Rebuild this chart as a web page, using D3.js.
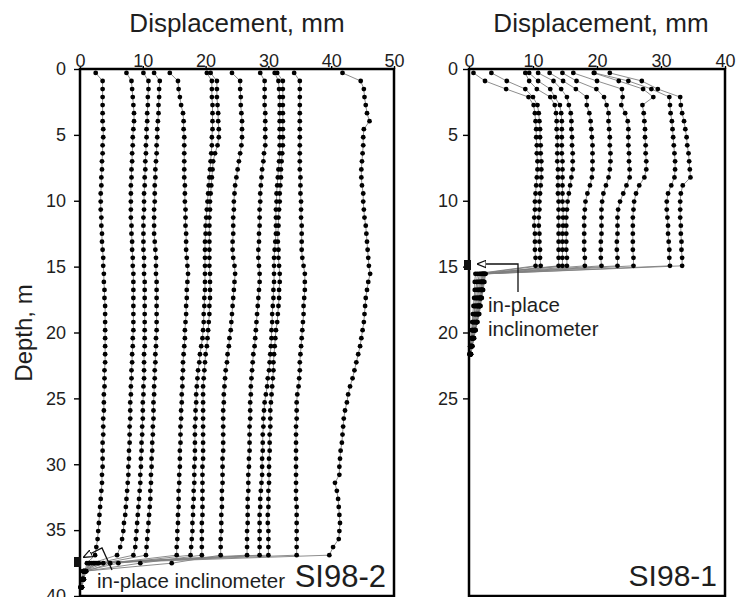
<!DOCTYPE html>
<html><head><meta charset="utf-8">
<script src="https://cdn.jsdelivr.net/npm/d3@7"></script>
<style>
html,body{margin:0;padding:0;background:#fff;}
svg{display:block;font-family:'Liberation Sans',Arial,Helvetica,sans-serif;}
</style></head><body>
<svg id="chart" width="751" height="597"></svg>
<script>
// ---------- DATA ----------
const xTicksLeft = [0, 10, 20, 30, 40, 50];
const xTicksRight = [0, 10, 20, 30, 40];
const yTicksLeft = [0, 5, 10, 15, 20, 25, 30, 35, 40];
const yTicksRight = [0, 5, 10, 15, 20, 25];

// reading depths (m)
const depthsLeft = [0.30,0.91,1.52,2.13,2.74,3.35,3.96,4.57,5.18,5.79,6.40,7.01,7.62,8.23,8.84,9.45,10.06,10.67,11.28,11.89,12.50,13.11,13.72,14.33,14.94,15.55,16.16,16.77,17.38,17.99,18.60,19.21,19.82,20.43,21.04,21.65,22.26,22.87,23.48,24.09,24.70,25.31,25.92,26.53,27.14,27.75,28.36,28.97,29.58,30.19,30.80,31.41,32.02,32.63,33.24,33.85,34.46,35.07,35.68,36.29,36.90,37.51,38.12,38.73,39.34];
const depthsRight = [0.30,0.91,1.52,2.13,2.74,3.35,3.96,4.57,5.18,5.79,6.40,7.01,7.62,8.23,8.84,9.45,10.06,10.67,11.28,11.89,12.50,13.11,13.72,14.33,14.94,15.55,16.16,16.77,17.38,17.99,18.60,19.21,19.82,20.43,21.04,21.65];

// SI98-2 displacement profiles (mm)
const si2_s1 = [2.5, 3.6,3.6,3.6,3.6,3.6,3.6,3.7,3.7,3.6,3.6, 3.5,3.5,3.4,3.4,3.3,3.3,3.3,3.4,3.4,3.5, 3.5,3.6,3.7,3.7,3.8,3.8,3.9,3.9,4.0,4.0, 4.0,4.0,4.0,4.0,4.0,4.0,3.9,3.9,3.9,3.8, 3.8,3.8,3.7,3.7,3.7,3.6,3.6,3.6,3.6,3.5, 3.5,3.4,3.3,3.2,3.1,3.0,2.9,2.8,2.6,2.4, 1.1,0.8,0.5,0.2];
const si2_s2 = [7.4, 8.2,8.3,8.4,8.5,8.6,8.6,8.5,8.4,8.4,8.3, 8.3,8.2,8.2,8.1,8.1,8.1,8.1,8.1,8.2,8.2, 8.3,8.3,8.4,8.4,8.5,8.5,8.5,8.5,8.5,8.5, 8.5,8.5,8.4,8.4,8.3,8.3,8.2,8.2,8.1,8.1, 8.0,8.0,8.0,7.9,7.9,7.9,7.8,7.8,7.7,7.7, 7.6,7.5,7.4,7.3,7.2,7.0,6.9,6.7,6.4,5.9, 1.9,0.6,0.4,0.1];
const si2_s3 = [10.1, 10.9,10.9,10.8,10.8,10.7,10.7,10.6,10.6,10.5,10.5, 10.4,10.4,10.3,10.3,10.2,10.2,10.2,10.1,10.1,10.1, 10.1,10.1,10.2,10.2,10.2,10.3,10.3,10.3,10.3,10.3, 10.3,10.3,10.3,10.3,10.2,10.2,10.2,10.2,10.1,10.1, 10.0,10.0,10.0,9.9,9.9,9.8,9.8,9.7,9.7,9.6, 9.6,9.5,9.4,9.3,9.2,9.1,9.0,8.9,8.8,8.5, 2.7,0.9,0.6,0.3];
const si2_s4 = [11.8, 12.7,12.6,12.6,12.5,12.5,12.4,12.3,12.3,12.2,12.2, 12.1,12.0,12.0,11.9,11.9,11.9,11.8,11.8,11.8,11.8, 11.9,12.0,12.1,12.1,12.1,12.2,12.2,12.2,12.2,12.2, 12.2,12.2,12.1,12.1,12.0,12.0,11.9,11.9,11.8,11.8, 11.7,11.7,11.7,11.6,11.6,11.5,11.5,11.4,11.4,11.3, 11.3,11.2,11.2,11.1,11.0,10.9,10.8,10.7,10.6,10.5, 3.7,0.7,0.3,0.2];
const si2_s5 = [14.3, 15.6,15.7,15.9,16.1,16.4,16.5,16.5,16.6,16.6,16.6, 16.6,16.6,16.6,16.7,16.7,16.7,16.8,16.8,16.8,16.9, 16.9,16.9,17.0,17.1,17.2,17.1,17.0,17.0,16.9,16.9, 16.8,16.7,16.7,16.6,16.5,16.4,16.4,16.3,16.3,16.2, 16.2,16.1,16.1,16.0,16.0,16.0,15.9,15.9,15.9,15.8, 15.8,15.7,15.7,15.7,15.6,15.6,15.5,15.5,15.4,15.4, 4.8,1.0,0.5,0.1];
const si2_s6 = [20.2, 21.0,21.0,21.0,21.1,21.1,21.1,21.1,21.0,21.0,20.9, 20.8,20.7,20.6,20.5,20.4,20.3,20.2,20.1,20.0,20.0, 19.9,19.9,19.9,19.9,19.9,19.9,19.9,19.8,19.8,19.7, 19.7,19.6,19.5,19.3,19.1,19.0,18.8,18.7,18.6,18.5, 18.5,18.4,18.4,18.3,18.3,18.3,18.3,18.3,18.2,18.2, 18.2,18.1,18.1,18.0,18.0,17.9,17.9,17.8,17.7,17.6, 6.1,0.5,0.4,0.3];
const si2_s7 = [20.8, 21.8,21.8,21.8,21.9,22.0,22.0,22.1,22.1,21.9,21.5, 21.2,21.1,21.0,20.9,20.8,20.7,20.7,20.6,20.6,20.6, 20.6,20.6,20.6,20.6,20.7,20.7,20.7,20.7,20.6,20.6, 20.5,20.4,20.3,20.2,20.0,19.9,19.8,19.7,19.6,19.6, 19.6,19.6,19.6,19.6,19.6,19.6,19.6,19.6,19.5,19.5, 19.5,19.5,19.5,19.5,19.5,19.4,19.4,19.4,19.4,19.4, 9.6,0.8,0.6,0.2];
const si2_s8 = [24.2, 25.5,25.5,25.6,25.6,25.7,25.8,25.8,25.8,25.7,25.5, 25.3,25.1,24.9,24.7,24.6,24.5,24.5,24.4,24.4,24.4, 24.3,24.3,24.4,24.6,24.7,24.6,24.5,24.4,24.3,24.2, 24.1,24.0,23.8,23.7,23.5,23.4,23.2,23.1,23.0,22.9, 22.9,22.8,22.8,22.8,22.8,22.8,22.8,22.7,22.7,22.7, 22.7,22.6,22.6,22.6,22.5,22.5,22.5,22.4,22.4,22.4, 14.6,0.6,0.3,0.1];
const si2_s9 = [28.7, 29.4,29.4,29.4,29.4,29.5,29.5,29.5,29.5,29.5,29.3, 29.2,29.0,28.9,28.8,28.7,28.7,28.6,28.6,28.6,28.5, 28.5,28.4,28.4,28.5,28.6,28.6,28.5,28.4,28.3,28.2, 28.1,28.0,27.9,27.8,27.6,27.5,27.4,27.3,27.2,27.2, 27.1,27.1,27.1,27.0,27.0,27.0,27.0,26.9,26.9,26.8, 26.8,26.8,26.7,26.7,26.7,26.7,26.6,26.6,26.6,26.6, 1.5,0.9,0.5,0.3];
const si2_s10 = [31.0, 31.6,31.7,31.8,31.8,31.8,31.8,31.8,31.8,31.8,31.8, 31.7,31.6,31.5,31.4,31.3,31.3,31.2,31.2,31.2,31.2, 31.1,31.0,30.9,30.9,30.9,30.9,30.8,30.8,30.7,30.6, 30.6,30.5,30.5,30.4,30.3,30.2,30.1,29.9,29.8,29.6, 29.4,29.3,29.2,29.2,29.1,29.1,29.1,29.0,29.0,29.0, 28.9,28.8,28.7,28.7,28.6,28.6,28.6,28.6,28.6,28.6, 2.2,0.7,0.4,0.2];
const si2_s11 = [31.4, 32.3,32.3,32.3,32.3,32.3,32.3,32.3,32.3,32.3,32.2, 32.1,32.0,32.0,31.9,31.8,31.8,31.7,31.6,31.6,31.5, 31.5,31.6,31.6,31.7,31.8,31.8,31.7,31.7,31.6,31.5, 31.4,31.2,31.1,31.0,30.9,30.8,30.8,30.7,30.6,30.5, 30.4,30.3,30.3,30.3,30.2,30.2,30.2,30.1,30.1,30.1, 30.1,30.0,30.0,30.0,29.9,29.9,30.0,30.0,30.0,30.0, 3.0,0.5,0.6,0.1];
const si2_s12 = [34.1, 35.0,35.0,35.0,35.0,35.0,35.0,35.0,35.0,35.0,35.0, 35.0,35.0,35.1,35.1,35.1,35.2,35.2,35.2,35.3,35.3, 35.3,35.3,35.4,35.6,35.8,35.8,35.8,35.7,35.6,35.6, 35.5,35.4,35.3,35.2,35.1,35.0,35.0,34.9,34.8,34.6, 34.5,34.5,34.5,34.4,34.4,34.4,34.4,34.4,34.4,34.4, 34.4,34.4,34.4,34.5,34.5,34.5,34.5,34.5,34.5,34.5, 1.4,0.8,0.3,0.3];
const si2_s13 = [41.8, 44.7,45.2,45.3,45.5,45.7,46.1,45.2,45.1,45.1,45.0, 44.9,44.8,44.8,44.9,45.1,45.1,45.2,45.3,45.5,45.6, 45.7,45.8,45.9,46.0,46.2,45.9,45.7,45.5,45.4,45.3, 45.2,45.0,44.8,44.6,44.3,44.0,43.7,43.4,43.0,42.7, 42.5,42.2,42.0,41.9,41.8,41.7,41.5,41.4,41.3,41.3, 40.6,40.9,41.1,41.2,41.3,41.4,41.3,41.2,40.3,39.7, 2.4,0.6,0.5,0.2];

// SI98-1 displacement profiles (mm)
const si1_a = [0.7,2.5,5.8,9.3, 10.1,10.3,10.4,10.5,10.5,10.6,10.6,10.7,10.7,10.6,10.5,10.4,10.3,10.3,10.2,10.2,10.3,10.3,10.3,10.4,10.4, 1.0,0.9,0.9,0.8,0.7,0.6,0.5,0.4,0.3,0.2,0.1];
const si1_b = [3.5,5.9,8.8,10.0, 10.7,10.9,11.0,11.1,11.1,11.2,11.2,11.3,11.3,11.3,11.2,11.1,11.0,11.0,10.9,10.9,11.0,11.0,11.1,11.1,11.2, 1.3,1.2,1.1,1.0,0.9,0.8,0.6,0.5,0.4,0.2,0.1];
const si1_c = [8.8,9.4,10.6,12.7, 13.4,13.6,13.7,13.7,13.8,13.8,13.8,13.8,13.9,13.9,13.9,13.9,14.0,14.0,14.0,14.0,14.0,14.0,14.0,14.0,14.0, 1.6,1.4,1.3,1.2,1.0,0.9,0.7,0.6,0.4,0.3,0.1];
const si1_d = [9.4,10.8,12.7,13.4, 14.2,14.4,14.5,14.5,14.5,14.5,14.5,14.6,14.6,14.6,14.6,14.6,14.6,14.7,14.7,14.7,14.6,14.6,14.6,14.6,14.6, 1.8,1.6,1.5,1.3,1.2,1.0,0.8,0.6,0.5,0.3,0.2];
const si1_e = [10.8,13.2,14.4,15.3, 15.6,15.9,16.0,16.0,16.1,16.1,16.2,16.2,16.2,16.0,15.8,15.6,15.4,15.3,15.2,15.2,15.2,15.2,15.2,15.3,15.3, 2.0,1.8,1.6,1.5,1.3,1.1,0.9,0.7,0.5,0.3,0.2];
const si1_f = [12.6,14.7,16.7,18.4, 18.4,18.8,19.0,19.1,19.2,19.3,19.3,19.3,19.3,19.2,18.9,18.5,18.2,18.1,18.0,18.0,18.0,18.0,18.0,18.1,18.1, 2.1,1.9,1.8,1.6,1.4,1.2,1.0,0.8,0.6,0.4,0.2];
const si1_g = [14.6,16.8,19.9,21.1, 21.5,21.8,21.8,21.9,22.0,22.0,22.1,22.1,22.0,21.8,21.4,21.0,20.8,20.7,20.7,20.7,20.7,20.6,20.6,20.6,20.7, 2.2,2.0,1.9,1.7,1.5,1.3,1.1,0.9,0.6,0.4,0.2];
const si1_h = [16.3,20.0,23.9,24.0, 23.8,24.4,24.8,24.9,24.9,24.9,25.0,25.0,25.1,25.1,24.6,24.1,23.6,23.3,23.2,23.2,23.2,23.1,23.1,23.2,23.2, 2.3,2.1,2.0,1.8,1.6,1.4,1.2,0.9,0.7,0.4,0.2];
const si1_i = [19.5,23.4,27.2,28.8, 27.1,27.3,27.4,27.5,27.5,27.6,27.6,27.7,27.7,27.4,26.6,26.1,25.8,25.7,25.6,25.6,25.6,25.6,25.6,25.7,25.7, 2.4,2.2,2.0,1.9,1.7,1.4,1.2,1.0,0.7,0.5,0.3];
const si1_j = [19.6,24.9,28.5,31.3, 31.4,31.5,31.7,31.8,31.9,32.0,32.1,32.2,32.2,32.1,31.6,31.1,30.9,30.9,31.0,31.1,31.1,31.2,31.3,31.3,31.4, 2.5,2.3,2.1,1.9,1.7,1.5,1.3,1.0,0.7,0.5,0.3];
const si1_k = [22.0,27.0,29.5,33.0, 33.1,33.3,33.6,33.8,34.0,34.1,34.3,34.4,34.5,34.6,33.4,33.1,33.0,33.0,33.0,33.1,33.1,33.2,33.2,33.3,33.3, 2.6,2.4,2.2,2.0,1.8,1.6,1.3,1.0,0.8,0.5,0.3];

const seriesLeft = [si2_s1,si2_s2,si2_s3,si2_s4,si2_s5,si2_s6,si2_s7,si2_s8,si2_s9,si2_s10,si2_s11,si2_s12,si2_s13];
const seriesRight = [si1_a,si1_b,si1_c,si1_d,si1_e,si1_f,si1_g,si1_h,si1_i,si1_j,si1_k];

// ---------- DRAWING ----------
const svg = d3.select('#chart');
const TOP = 69, BOTTOM = 596;
const y = d3.scaleLinear().domain([0, 40]).range([TOP, BOTTOM]);
const xL = d3.scaleLinear().domain([0, 50]).range([80, 394]);
const xR = d3.scaleLinear().domain([0, 40]).range([469, 725]);
const TXT = '#1e1e1e';

const defs = svg.append('defs');
defs.append('marker').attr('id','arr').attr('viewBox','0 0 10 10')
  .attr('refX',9).attr('refY',5).attr('markerWidth',9).attr('markerHeight',9)
  .attr('markerUnits','userSpaceOnUse').attr('orient','auto')
  .append('path').attr('d','M0,1 L10,5 L0,9 Z').attr('fill','#fff').attr('stroke','#111').attr('stroke-width',1.4);

function panel(x, depths, series, xTicks, yTicks, padY) {
  const g = svg.append('g');
  const line = d3.line().x(d => x(d[0])).y(d => y(d[1]));
  series.forEach(s => {
    g.append('path').attr('d', line(s.map((v, i) => [v, depths[i]])))
      .attr('fill', 'none').attr('stroke', '#808080').attr('stroke-width', 0.9);
  });
  series.forEach(s => {
    g.selectAll(null).data(s.map((v, i) => [v, depths[i]])).enter().append('circle')
      .attr('cx', d => x(d[0])).attr('cy', d => y(d[1])).attr('r', 2.4).attr('fill', '#000');
  });
  const [x0, x1] = x.range();
  g.append('rect').attr('x', x0).attr('y', TOP).attr('width', x1 - x0).attr('height', BOTTOM - TOP)
    .attr('fill', 'none').attr('stroke', '#000').attr('stroke-width', 2.5);

  const top = g.append('g').attr('transform', `translate(0,${TOP})`)
    .call(d3.axisTop(x).tickValues(xTicks).tickSize(3).tickPadding(-1));
  const left = g.append('g').attr('transform', `translate(${x0},0)`)
    .call(d3.axisLeft(y).tickValues(yTicks).tickSize(6).tickPadding(padY));
  [top, left].forEach(a => {
    a.select('.domain').remove();
    a.selectAll('line').attr('stroke', '#000').attr('stroke-width', 1.4);
    a.selectAll('text').attr('font-size', 18).attr('fill', TXT)
      .attr('font-family', "'Liberation Sans',Arial,sans-serif");
  });
  return g;
}

panel(xL, depthsLeft, seriesLeft, xTicksLeft, yTicksLeft, 8);
panel(xR, depthsRight, seriesRight, xTicksRight, yTicksRight, 5);

// titles
svg.append('text').attr('x', 237).attr('y', 32).attr('text-anchor', 'middle')
  .attr('font-size', 26).attr('fill', TXT).text('Displacement, mm');
svg.append('text').attr('x', 601).attr('y', 32).attr('text-anchor', 'middle')
  .attr('font-size', 26).attr('fill', TXT).text('Displacement, mm');
svg.append('text').attr('transform', 'translate(32,333) rotate(-90)').attr('text-anchor', 'middle')
  .attr('font-size', 24).attr('fill', TXT).text('Depth, m');

// panel labels
svg.append('text').attr('x', 386).attr('y', 587).attr('text-anchor', 'end')
  .attr('font-size', 31).attr('fill', TXT).text('SI98-2');
svg.append('text').attr('x', 717).attr('y', 586).attr('text-anchor', 'end')
  .attr('font-size', 30).attr('fill', TXT).text('SI98-1');

// in-place inclinometer annotations
svg.append('text').attr('x', 97).attr('y', 588).attr('font-size', 20.5).attr('fill', TXT).text('in-place inclinometer');
svg.append('rect').attr('x', 74).attr('y', 557).attr('width', 7).attr('height', 10).attr('fill', '#111');
svg.append('path').attr('d', `M112,570 L102,548 L84,557`).attr('fill', 'none')
  .attr('stroke', '#111').attr('stroke-width', 1.3).attr('marker-end', 'url(#arr)');

svg.append('text').attr('x', 488).attr('y', 312).attr('font-size', 20.5).attr('fill', TXT).text('in-place');
svg.append('text').attr('x', 488).attr('y', 336).attr('font-size', 20.5).attr('fill', TXT).text('inclinometer');
svg.append('rect').attr('x', 464).attr('y', 260).attr('width', 7).attr('height', 10).attr('fill', '#111');
svg.append('path').attr('d', `M518,292 L518,264 L478,264`).attr('fill', 'none')
  .attr('stroke', '#111').attr('stroke-width', 1.3).attr('marker-end', 'url(#arr)');
</script>
</body></html>
